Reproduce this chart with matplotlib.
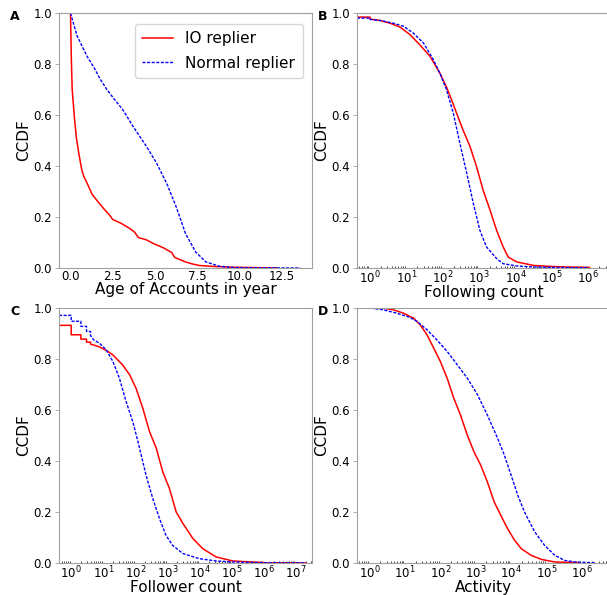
import numpy as np
import matplotlib
matplotlib.use("Agg")
import matplotlib.pyplot as plt
from matplotlib.ticker import LogLocator

# values, CCDF curves
# A: age of accounts in years (linear x)
a_io_x = [0.0, 0.05, 0.1, 0.23, 0.35, 0.49, 0.65, 0.78, 1.0, 1.27, 1.56, 2.0, 2.34, 2.5, 3.0, 3.5, 3.8,
          4.0, 4.5, 4.9, 5.5, 6.0, 6.15, 6.5, 6.8, 7.2, 7.6, 8.5, 9.6, 10.5, 11.5, 12.2]
a_io_y = [1.0, 0.82, 0.70, 0.59, 0.51, 0.45, 0.39, 0.36, 0.33, 0.29, 0.265, 0.23, 0.205, 0.19, 0.175,
          0.155, 0.14, 0.12, 0.11, 0.096, 0.079, 0.06, 0.042, 0.032, 0.024, 0.016, 0.01, 0.006, 0.003,
          0.002, 0.001, 0.0005]
a_nr_x = [0.0, 0.39, 0.98, 1.4, 1.76, 2.15, 2.54, 3.1, 3.7, 4.5, 5.1, 5.7, 6.25, 6.8, 7.4, 8.0, 8.8,
          9.6, 10.5, 11.5, 12.5, 13.6]
a_nr_y = [1.0, 0.91, 0.83, 0.785, 0.74, 0.70, 0.666, 0.62, 0.555, 0.476, 0.41, 0.33, 0.24, 0.135,
          0.063, 0.024, 0.007, 0.002, 0.001, 0.0006, 0.0003, 0.0001]

# B: following count (log10 of x)
b_io_lx = [-0.36, 0.0, 0.0, 0.27, 0.55, 0.82, 1.1, 1.37, 1.65, 1.92, 2.1, 2.24, 2.38, 2.56, 2.75, 2.93,
           3.11, 3.3, 3.48, 3.66, 3.8, 4.03, 4.5, 5.0, 5.4, 6.04]
b_io_y = [0.984, 0.984, 0.976, 0.971, 0.96, 0.945, 0.915, 0.875, 0.83, 0.764, 0.71, 0.66, 0.607, 0.54,
          0.476, 0.397, 0.305, 0.227, 0.148, 0.083, 0.043, 0.024, 0.01, 0.006, 0.004, 0.002]
b_nr_lx = [-0.36, 0.0, 0.0, 0.3, 0.64, 0.92, 1.19, 1.47, 1.74, 1.92, 2.1, 2.29, 2.47, 2.66, 2.84, 3.02,
           3.2, 3.48, 3.66, 4.03, 4.5, 5.2, 6.0]
b_nr_y = [0.98, 0.98, 0.975, 0.97, 0.96, 0.948, 0.921, 0.882, 0.817, 0.764, 0.70, 0.607, 0.489, 0.371,
          0.253, 0.148, 0.083, 0.037, 0.017, 0.008, 0.004, 0.002, 0.001]

# C: follower count (log10 of x), stepped at small counts
c_io_lx = [-0.38, 0.0, 0.0, 0.301, 0.301, 0.477, 0.477, 0.602, 0.602, 0.7, 0.88, 1.09, 1.3, 1.6, 1.82,
           2.02, 2.23, 2.44, 2.65, 2.85, 3.06, 3.27, 3.48, 3.79, 4.1, 4.51, 5.03, 6.07, 7.3]
c_io_y = [0.932, 0.932, 0.895, 0.895, 0.878, 0.878, 0.866, 0.866, 0.858, 0.855, 0.847, 0.834, 0.816,
          0.777, 0.738, 0.685, 0.607, 0.515, 0.45, 0.358, 0.292, 0.20, 0.155, 0.096, 0.056, 0.024,
          0.008, 0.001, 0.0002]
c_nr_lx = [-0.38, 0.0, 0.0, 0.301, 0.301, 0.477, 0.477, 0.602, 0.602, 0.7, 0.88, 1.09, 1.3, 1.5, 1.71,
           1.92, 2.13, 2.33, 2.54, 2.75, 2.95, 3.16, 3.48, 3.99, 4.51, 5.03, 6.0, 7.3]
c_nr_y = [0.971, 0.971, 0.948, 0.948, 0.928, 0.928, 0.908, 0.908, 0.892, 0.875, 0.862, 0.836, 0.79,
          0.725, 0.633, 0.554, 0.45, 0.345, 0.253, 0.174, 0.109, 0.069, 0.037, 0.017, 0.008, 0.004,
          0.001, 0.0002]

# D: activity (log10 of x)
d_io_lx = [-0.36, 0.0, 0.38, 0.67, 0.95, 1.24, 1.43, 1.62, 1.81, 2.0, 2.19, 2.38, 2.57, 2.76, 2.95, 3.14,
           3.33, 3.52, 3.71, 3.9, 4.1, 4.29, 4.57, 4.86, 5.24, 5.9]
d_io_y = [1.0, 1.0, 0.999, 0.993, 0.98, 0.96, 0.934, 0.895, 0.843, 0.79, 0.725, 0.646, 0.58, 0.502,
          0.436, 0.384, 0.318, 0.24, 0.187, 0.135, 0.089, 0.056, 0.03, 0.014, 0.004, 0.001]
d_nr_lx = [-0.36, 0.0, 0.38, 0.76, 1.14, 1.33, 1.62, 1.9, 2.19, 2.48, 2.76, 3.05, 3.33, 3.62, 3.81, 4.0,
           4.19, 4.38, 4.67, 4.95, 5.24, 5.52, 5.81, 6.38]
d_nr_y = [1.0, 1.0, 0.993, 0.98, 0.963, 0.948, 0.915, 0.875, 0.83, 0.777, 0.725, 0.66, 0.58, 0.489,
          0.423, 0.345, 0.266, 0.20, 0.122, 0.069, 0.03, 0.01, 0.004, 0.001]

panel_labels = ["A", "B", "C", "D"]
x_labels = ["Age of Accounts in year", "Following count", "Follower count", "Activity"]
legend_labels = ["IO replier", "Normal replier"]

W, H = 607, 595
fig = plt.figure(figsize=(W / 100, H / 100), dpi=100)

def px_axes(x0, y0, x1, y1):
    return fig.add_axes([x0 / W, 1 - y1 / H, (x1 - x0) / W, (y1 - y0) / H])

axA = px_axes(59, 13, 312, 268)
axB = px_axes(357, 13, 610, 268)
axC = px_axes(59, 308, 312, 563)
axD = px_axes(357, 308, 610, 563)
axes = [axA, axB, axC, axD]

red_kw = dict(color="red", lw=1.1)
blue_kw = dict(color="blue", lw=1.0, linestyle=(0, (2.2, 1.1)))

axA.plot(a_io_x, a_io_y, label=legend_labels[0], **red_kw)
axA.plot(a_nr_x, a_nr_y, label=legend_labels[1], **blue_kw)
axA.set_xlim(-0.68, 14.28)
axA.set_xticks([0, 2.5, 5, 7.5, 10, 12.5])

axB.plot(np.power(10.0, b_io_lx), b_io_y, **red_kw)
axB.plot(np.power(10.0, b_nr_lx), b_nr_y, **blue_kw)
axB.set_xscale("log")
axB.set_xlim(10 ** -0.36, 10 ** 6.6)

axC.plot(np.power(10.0, c_io_lx), c_io_y, **red_kw)
axC.plot(np.power(10.0, c_nr_lx), c_nr_y, **blue_kw)
axC.set_xscale("log")
axC.set_xlim(10 ** -0.38, 10 ** 7.5)

axD.plot(np.power(10.0, d_io_lx), d_io_y, **red_kw)
axD.plot(np.power(10.0, d_nr_lx), d_nr_y, **blue_kw)
axD.set_xscale("log")
axD.set_xlim(10 ** -0.36, 10 ** 6.8)

for ax in [axB, axC, axD]:
    ax.xaxis.set_major_locator(LogLocator(base=10, numticks=20))
    ax.xaxis.set_minor_locator(LogLocator(base=10, subs=np.arange(2, 10), numticks=20))

for ax, xl in zip(axes, x_labels):
    ax.set_ylim(0, 1)
    ax.set_yticks([0, 0.2, 0.4, 0.6, 0.8, 1.0])
    ax.set_ylabel("CCDF", fontsize=11, labelpad=2)
    ax.set_xlabel(xl, fontsize=11, labelpad=-1)
    for s in ax.spines.values():
        s.set_color("#a0a0a0")
        s.set_linewidth(0.8)
    ax.tick_params(axis="both", labelsize=8.5, colors="#a0a0a0", labelcolor="black",
                   length=3, width=0.6, pad=2)
    ax.tick_params(axis="x", length=0, pad=1.5)
    ax.tick_params(axis="x", which="minor", direction="in", length=1.5, width=0.5)

# panel letters
fig.text(10 / W, 1 - 20 / H, panel_labels[0], fontsize=9, fontweight="bold")
fig.text(318 / W, 1 - 20 / H, panel_labels[1], fontsize=9, fontweight="bold")
fig.text(10 / W, 1 - 315 / H, panel_labels[2], fontsize=9, fontweight="bold")
fig.text(318 / W, 1 - 315 / H, panel_labels[3], fontsize=9, fontweight="bold")

axA.legend(loc="upper right", fontsize=11, frameon=True, fancybox=True,
           edgecolor="#cccccc", handlelength=2.0, borderpad=0.5, labelspacing=0.6,
           borderaxespad=0.2, bbox_to_anchor=(0.975, 0.97))

fig.savefig("out.png", dpi=100)
